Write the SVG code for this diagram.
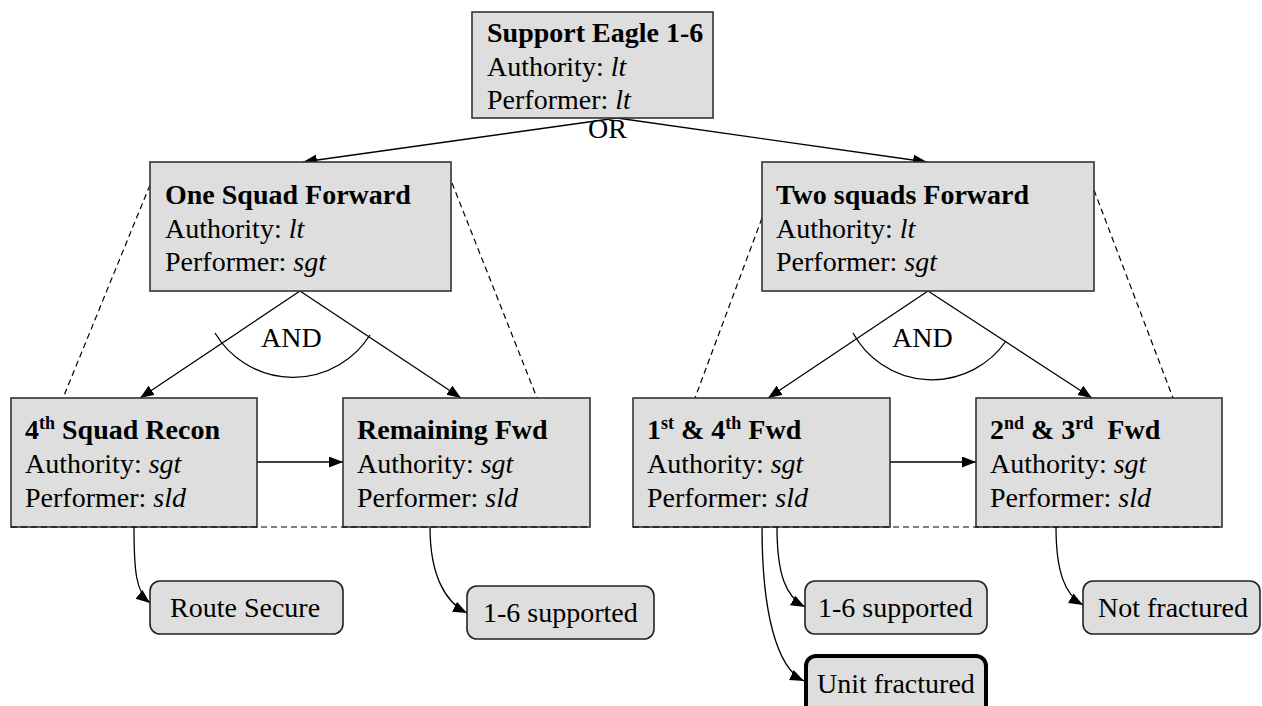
<svg xmlns="http://www.w3.org/2000/svg" width="1262" height="706" viewBox="0 0 1262 706">
<defs>
<marker id="ah" markerUnits="userSpaceOnUse" markerWidth="15" markerHeight="12" refX="14" refY="5.5" orient="auto">
<path d="M0,0 L14,5.5 L0,11 z" fill="#000"/>
</marker>
<style>
.box{fill:#dedede;stroke:#333;stroke-width:1.6}
.res{fill:#dedede;stroke:#222;stroke-width:1.6}
.t{font-family:"Liberation Serif","Times New Roman",serif;font-size:28px;fill:#000}
.b{font-weight:bold}
.i{font-style:italic}
.c{fill:none;stroke:#000;stroke-width:1.3}
.a{marker-end:url(#ah)}
.d{fill:none;stroke:#000;stroke-width:1.2;stroke-dasharray:6,4}
</style>
</defs>
<rect width="1262" height="706" fill="#fff"/>
<g id="connectors">
<path class="c a" d="M617,118 L303,162"/>
<path class="c a" d="M617,118 L927,162"/>
<path class="c a" d="M300,291 L140,398"/>
<path class="c a" d="M300,291 L461,398"/>
<path class="c a" d="M928,291 L768,398"/>
<path class="c a" d="M928,291 L1092,398"/>
<path class="c" d="M215,333 A91,91 0 0 0 370,335"/>
<path class="c" d="M853,333 A90,90 0 0 0 1006,341"/>
<path class="d" d="M150,185 L63,398"/>
<path class="d" d="M452,183 L537,398"/>
<path class="d" d="M762,218 L695,398"/>
<path class="d" d="M1094,190 L1173,398"/>
<path class="c a" d="M257,462 L343,462"/>
<path class="c a" d="M890,462 L976,462"/>
<path class="c a" d="M134,527 C134,572 136,592 150,603"/>
<path class="c a" d="M430,527 C430,575 445,602 467,613"/>
<path class="c a" d="M777,527 C777,575 786,597 805,607"/>
<path class="c a" d="M762,527 C762,610 776,668 804,681"/>
<path class="c a" d="M1056,527 C1056,572 1065,595 1083,605"/>
<text class="t" x="588" y="138">OR</text>
<text class="t" x="261" y="347">AND</text>
<text class="t" x="892" y="347">AND</text>
</g>
<g id="n-support">
<rect class="box" x="472" y="12" width="241" height="106"/>
<text class="t b" x="487" y="42">Support Eagle 1-6</text>
<text class="t" x="487" y="76">Authority: <tspan class="i">lt</tspan></text>
<text class="t" x="487" y="109">Performer: <tspan class="i">lt</tspan></text>
</g>
<g id="n-one">
<rect class="box" x="150" y="162" width="301" height="129"/>
<text class="t b" x="165" y="204">One Squad Forward</text>
<text class="t" x="165" y="238">Authority: <tspan class="i">lt</tspan></text>
<text class="t" x="165" y="271">Performer: <tspan class="i">sgt</tspan></text>
</g>
<g id="n-two">
<rect class="box" x="762" y="162" width="332" height="129"/>
<text class="t b" x="776" y="204">Two squads Forward</text>
<text class="t" x="776" y="238">Authority: <tspan class="i">lt</tspan></text>
<text class="t" x="776" y="271">Performer: <tspan class="i">sgt</tspan></text>
</g>
<g id="n-recon">
<rect class="box" x="11" y="398" width="246" height="129"/>
<text class="t b" x="25" y="439">4<tspan font-size="18" dy="-10">th</tspan><tspan dy="10"> Squad Recon</tspan></text>
<text class="t" x="25" y="473">Authority: <tspan class="i">sgt</tspan></text>
<text class="t" x="25" y="507">Performer: <tspan class="i">sld</tspan></text>
</g>
<g id="n-remaining">
<rect class="box" x="343" y="398" width="247" height="129"/>
<text class="t b" x="357" y="439">Remaining Fwd</text>
<text class="t" x="357" y="473">Authority: <tspan class="i">sgt</tspan></text>
<text class="t" x="357" y="507">Performer: <tspan class="i">sld</tspan></text>
</g>
<g id="n-first">
<rect class="box" x="633" y="398" width="257" height="129"/>
<text class="t b" x="647" y="439">1<tspan font-size="18" dy="-10">st</tspan><tspan dy="10"> &amp; 4</tspan><tspan font-size="18" dy="-10">th</tspan><tspan dy="10"> Fwd</tspan></text>
<text class="t" x="647" y="473">Authority: <tspan class="i">sgt</tspan></text>
<text class="t" x="647" y="507">Performer: <tspan class="i">sld</tspan></text>
</g>
<g id="n-second">
<rect class="box" x="976" y="398" width="246" height="129"/>
<text class="t b" x="990" y="439" style="white-space:pre">2<tspan font-size="18" dy="-10">nd</tspan><tspan dy="10"> &amp; 3</tspan><tspan font-size="18" dy="-10">rd</tspan><tspan dy="10">  Fwd</tspan></text>
<text class="t" x="990" y="473">Authority: <tspan class="i">sgt</tspan></text>
<text class="t" x="990" y="507">Performer: <tspan class="i">sld</tspan></text>
</g>
<g id="dashes">
<path class="d" d="M11,527 L590,527"/>
<path class="d" d="M633,527 L1222,527"/>
</g>
<g id="r-route">
<rect class="res" x="150" y="581" width="193" height="53" rx="10"/>
<text class="t" x="170" y="617">Route Secure</text>
</g>
<g id="r-supp1">
<rect class="res" x="467" y="586" width="187" height="53" rx="10"/>
<text class="t" x="483" y="622">1-6 supported</text>
</g>
<g id="r-supp2">
<rect class="res" x="805" y="581" width="182" height="53" rx="10"/>
<text class="t" x="818" y="617">1-6 supported</text>
</g>
<g id="r-notfrac">
<rect class="res" x="1083" y="581" width="177" height="53" rx="10"/>
<text class="t" x="1098" y="617">Not fractured</text>
</g>
<g id="r-unitfrac">
<rect class="res" x="806" y="656" width="180" height="60" rx="10" style="stroke:#000;stroke-width:4"/>
<text class="t" x="817" y="693">Unit fractured</text>
</g>
</svg>
